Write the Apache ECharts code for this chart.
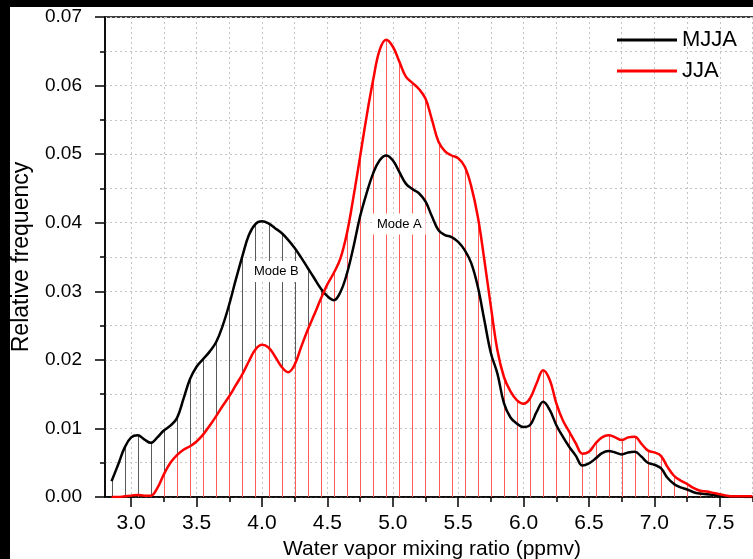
<!DOCTYPE html>
<html>
<head>
<meta charset="utf-8">
<script src="https://cdn.jsdelivr.net/npm/echarts@6/dist/echarts.min.js"></script>
<style>
  html, body { margin: 0; padding: 0; background: #fff; }
  #chart { width: 753px; height: 559px; }
</style>
</head>
<body>
<div id="chart"></div>
<script>
// Water vapor mixing ratio (ppmv), sampled every 0.05
const MIXING_RATIO = [
  2.85, 2.90, 2.95, 3.00, 3.05, 3.10, 3.15, 3.20, 3.25, 3.30,
  3.35, 3.40, 3.45, 3.50, 3.55, 3.60, 3.65, 3.70, 3.75, 3.80,
  3.85, 3.90, 3.95, 4.00, 4.05, 4.10, 4.15, 4.20, 4.25, 4.30,
  4.35, 4.40, 4.45, 4.50, 4.55, 4.60, 4.65, 4.70, 4.75, 4.80,
  4.85, 4.90, 4.95, 5.00, 5.05, 5.10, 5.15, 5.20, 5.25, 5.30,
  5.35, 5.40, 5.45, 5.50, 5.55, 5.60, 5.65, 5.70, 5.75, 5.80,
  5.85, 5.90, 5.95, 6.00, 6.05, 6.10, 6.15, 6.20, 6.25, 6.30,
  6.35, 6.40, 6.45, 6.50, 6.55, 6.60, 6.65, 6.70, 6.75, 6.80,
  6.85, 6.90, 6.95, 7.00, 7.05, 7.10, 7.15, 7.20, 7.25, 7.30,
  7.35, 7.40, 7.45, 7.50, 7.55, 7.60, 7.65, 7.70, 7.75
];

// Relative frequency, May-August
const MJJA = [
  0.0023, 0.0047, 0.0072, 0.0087, 0.0090, 0.0084, 0.0079, 0.0087, 0.0097, 0.0104,
  0.0115, 0.0143, 0.0172, 0.0190, 0.0201, 0.0212, 0.0226, 0.0250, 0.0281, 0.0317,
  0.0351, 0.0382, 0.0398, 0.0402, 0.0399, 0.0392, 0.0385, 0.0375, 0.0363, 0.0349,
  0.0334, 0.0319, 0.0304, 0.0293, 0.0287, 0.0299, 0.0326, 0.0365, 0.0409, 0.0443,
  0.0472, 0.0491, 0.0498, 0.0491, 0.0474, 0.0457, 0.0449, 0.0443, 0.0431, 0.0409,
  0.0389, 0.0382, 0.0379, 0.0372, 0.0360, 0.0341, 0.0307, 0.0258, 0.0210, 0.0180,
  0.0137, 0.0116, 0.0107, 0.0102, 0.0105, 0.0124, 0.0139, 0.0127, 0.0105, 0.0088,
  0.0073, 0.0060, 0.0046, 0.0049, 0.0056, 0.0064, 0.0067, 0.0065, 0.0062, 0.0065,
  0.0066, 0.0059, 0.0050, 0.0047, 0.0042, 0.0028, 0.0019, 0.0014, 0.0011, 0.0007,
  0.0005, 0.0004, 0.0003, 0.0002, 0.0001, 0.0001, 0.0001, 0.0000, 0.0000
];

// Relative frequency, June-August
const JJA = [
  0.0000, 0.0000, 0.0001, 0.0002, 0.0003, 0.0002, 0.0002, 0.0013, 0.0033, 0.0050,
  0.0061, 0.0069, 0.0074, 0.0081, 0.0091, 0.0104, 0.0118, 0.0133, 0.0147, 0.0163,
  0.0179, 0.0198, 0.0215, 0.0222, 0.0218, 0.0205, 0.0190, 0.0182, 0.0193, 0.0219,
  0.0244, 0.0266, 0.0289, 0.0310, 0.0327, 0.0348, 0.0385, 0.0438, 0.0496, 0.0555,
  0.0608, 0.0652, 0.0667, 0.0657, 0.0635, 0.0613, 0.0604, 0.0595, 0.0581, 0.0550,
  0.0518, 0.0504, 0.0498, 0.0494, 0.0482, 0.0453, 0.0409, 0.0346, 0.0278, 0.0214,
  0.0175, 0.0154, 0.0141, 0.0136, 0.0144, 0.0166, 0.0185, 0.0171, 0.0137, 0.0112,
  0.0095, 0.0078, 0.0063, 0.0066, 0.0078, 0.0087, 0.0090, 0.0087, 0.0083, 0.0087,
  0.0088, 0.0078, 0.0068, 0.0065, 0.0060, 0.0044, 0.0031, 0.0024, 0.0019, 0.0013,
  0.0009, 0.0008, 0.0006, 0.0004, 0.0002, 0.0001, 0.0001, 0.0001, 0.0001
];

const X_MAJOR_TICKS = [3.0, 3.5, 4.0, 4.5, 5.0, 5.5, 6.0, 6.5, 7.0, 7.5];
const X_MINOR_TICKS = [3.25, 3.75, 4.25, 4.75, 5.25, 5.75, 6.25, 6.75, 7.25, 7.75];

// Annotation anchors [x, y, text]
const MODE_LABELS = [
  [4.11, 0.0329, 'Mode B'],
  [5.05, 0.0398, 'Mode A']
];

const FONT = "'Liberation Sans', Arial, sans-serif";
const DOT = { color: '#c4c4c4', type: [2, 3], width: 1 };

// Histogram bin centres (every other sample) get a vertical drop line
function dropData(values) {
  const out = [];
  for (let i = 0; i < MIXING_RATIO.length; i += 2) out.push([MIXING_RATIO[i], values[i]]);
  return out;
}
function dropSeries(values, color) {
  return {
    type: 'custom',
    silent: true,
    xAxisIndex: 0,
    data: dropData(values),
    renderItem: function (params, api) {
      const p0 = api.coord([api.value(0), 0]);
      const p1 = api.coord([api.value(0), api.value(1)]);
      const x = Math.round(p0[0]) + 0.5;
      return {
        type: 'line',
        shape: { x1: x, y1: p0[1], x2: x, y2: p1[1] },
        style: { stroke: color, lineWidth: 1 }
      };
    }
  };
}

const chart = echarts.init(document.getElementById('chart'), null, { renderer: 'canvas' });

const option = {
  backgroundColor: '#fff',
  animation: false,
  textStyle: { fontFamily: FONT },
  grid: {
    left: 105, right: -6, top: 17, bottom: 62,
    outerBoundsMode: 'none', containLabel: false,
    show: true, borderColor: '#000', borderWidth: 1.5, backgroundColor: 'transparent'
  },
  legend: {
    data: ['MJJA', 'JJA'],
    orient: 'vertical',
    left: 612, top: 23,
    icon: 'rect',
    itemWidth: 60, itemHeight: 3, itemGap: 7,
    textStyle: { fontSize: 22, lineHeight: 24, color: '#000', fontFamily: FONT }
  },
  xAxis: [
    {
      type: 'value', min: 2.8, max: 7.8, position: 'bottom',
      name: 'Water vapor mixing ratio (ppmv)', nameLocation: 'middle', nameGap: 42,
      nameTextStyle: { fontSize: 21, color: '#000', fontFamily: FONT },
      axisLine: { show: true, lineStyle: { color: '#000', width: 1.5 } },
      axisTick: { show: true, length: 10, customValues: X_MAJOR_TICKS, lineStyle: { color: '#000', width: 1.5 } },
      axisLabel: { customValues: X_MAJOR_TICKS, margin: 16, fontSize: 21, color: '#000',
        formatter: function (v) { return v.toFixed(1); } },
      splitLine: { show: true, lineStyle: DOT }
    },
    {
      type: 'value', min: 2.8, max: 7.8, position: 'bottom',
      axisLine: { show: false },
      axisTick: { show: true, length: 5, customValues: X_MINOR_TICKS, lineStyle: { color: '#000', width: 1.5 } },
      axisLabel: { show: false, customValues: X_MINOR_TICKS },
      splitLine: { show: true, lineStyle: DOT }
    }
  ],
  yAxis: {
    type: 'value', min: 0, max: 0.07, interval: 0.01,
    name: 'Relative frequency', nameLocation: 'middle', nameGap: 72,
    nameTextStyle: { fontSize: 23, color: '#000', fontFamily: FONT },
    axisLine: { show: true, lineStyle: { color: '#000', width: 1.5 } },
    axisTick: { show: true, length: 10, lineStyle: { color: '#000', width: 1.5 } },
    minorTick: { show: true, splitNumber: 2, length: 5, lineStyle: { color: '#000', width: 1.5 } },
    axisLabel: { margin: 23, fontSize: 19, color: '#000',
      formatter: function (v) { return v.toFixed(2); } },
    splitLine: { show: true, lineStyle: DOT },
    minorSplitLine: { show: true, lineStyle: DOT }
  },
  graphic: [
    { type: 'rect', shape: { x: 0, y: 0, width: 753, height: 7 }, style: { fill: '#000' }, z: 100 },
    { type: 'rect', shape: { x: 0, y: 0, width: 10, height: 559 }, style: { fill: '#000' }, z: 100 }
  ],
  series: [
    dropSeries(MJJA, '#5a5a5a'),
    dropSeries(JJA, '#ff5c5c'),
    {
      type: 'custom',
      silent: true,
      data: MODE_LABELS,
      renderItem: function (params, api) {
        const p = api.coord([api.value(0), api.value(1)]);
        return {
          type: 'text',
          x: p[0], y: p[1],
          style: {
            text: MODE_LABELS[params.dataIndex][2],
            fill: '#000', font: '13px ' + FONT,
            align: 'center', verticalAlign: 'middle',
            backgroundColor: '#fff', padding: [4, 4]
          }
        };
      }
    },
    {
      name: 'MJJA', type: 'line', smooth: 0.4, showSymbol: false, symbol: 'none',
      data: MIXING_RATIO.map(function (x, i) { return [x, MJJA[i]]; }),
      lineStyle: { color: '#000', width: 2.5 }, itemStyle: { color: '#000' }
    },
    {
      name: 'JJA', type: 'line', smooth: 0.4, showSymbol: false, symbol: 'none',
      data: MIXING_RATIO.map(function (x, i) { return [x, JJA[i]]; }),
      lineStyle: { color: '#ff0000', width: 2.5 }, itemStyle: { color: '#ff0000' }
    }
  ]
};

chart.setOption(option);
</script>
</body>
</html>
